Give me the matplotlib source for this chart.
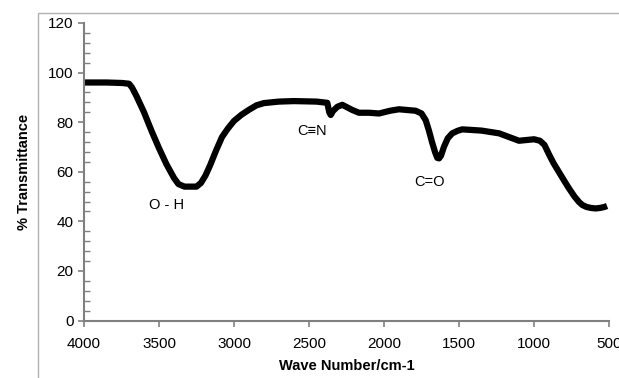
import matplotlib.pyplot as plt
import matplotlib
from matplotlib.patches import Rectangle
from matplotlib.ticker import MultipleLocator

matplotlib.rcParams['font.family'] = ['Liberation Sans', 'DejaVu Sans']

# spectrum
wavenumber = [4000, 3850, 3745, 3700, 3680, 3650, 3600, 3550, 3500, 3450, 3400, 3370,
              3330, 3290, 3250, 3220, 3190, 3160, 3120, 3080, 3040, 3000, 2950, 2900,
              2850, 2800, 2700, 2600, 2450, 2378, 2365, 2355, 2340, 2311, 2278, 2211,
              2167, 2100, 2033, 1960, 1900, 1789, 1750, 1722, 1700, 1680, 1660, 1645,
              1633, 1620, 1600, 1575, 1545, 1510, 1478, 1350, 1233, 1100, 1000, 960,
              930, 900, 870, 830, 800, 767, 730, 700, 678, 650, 620, 589, 560, 530, 513]
transmittance = [96.0, 96.0, 95.8, 95.5, 94.0, 90.5, 84.0, 76.5, 69.5, 63.0, 57.5, 55.0,
                 54.0, 54.0, 54.0, 55.5, 58.5, 62.5, 68.5, 74.0, 77.5, 80.5, 83.0, 85.0,
                 86.8, 87.7, 88.3, 88.5, 88.3, 87.8, 84.0, 82.9, 84.5, 86.2, 87.0, 84.9,
                 83.8, 83.8, 83.5, 84.6, 85.2, 84.6, 83.5, 80.8, 76.5, 72.0, 68.0, 65.6,
                 65.4, 66.5, 70.1, 73.5, 75.5, 76.5, 77.1, 76.6, 75.5, 72.5, 73.1, 72.5,
                 70.8, 67.0, 63.5, 59.5, 56.5, 53.3, 50.0, 47.8, 46.6, 45.8, 45.4, 45.2,
                 45.4, 45.8, 46.2]

peak_labels = ['O - H', 'C\u2261N', 'C=O']
peak_x = [3450, 2480, 1700]
peak_y = [46.6, 76.4, 56.0]

W, H = 619, 378
fig = plt.figure(figsize=(W / 100, H / 100), dpi=100)
ax = fig.add_axes([84 / W, 1 - 320.5 / H, (609 - 84) / W, (320.5 - 23) / H])

# outer chart frame
fig.add_artist(Rectangle((38 / W, -0.05), 1.1, 0.05 + 1 - 13 / H, transform=fig.transFigure,
                         facecolor='none', edgecolor='#b0b0b0', linewidth=1.0))

ax.plot(wavenumber, transmittance, color='black', linewidth=4.5,
        solid_joinstyle='round', solid_capstyle='butt')

for lab, x, y in zip(peak_labels, peak_x, peak_y):
    ax.text(x, y, lab, ha='center', va='center', fontsize=10.5)

ax.set_xlim(4000, 500)
ax.set_ylim(0, 120)
ax.set_xticks(range(4000, 499, -500))
ax.set_xticklabels([str(v) for v in range(4000, 499, -500)])
ax.yaxis.set_major_locator(MultipleLocator(20))
ax.yaxis.set_minor_locator(MultipleLocator(4))

for s in ['top', 'right']:
    ax.spines[s].set_visible(False)
for s in ['left', 'bottom']:
    ax.spines[s].set_color('#808080')
    ax.spines[s].set_linewidth(1.5)

ax.tick_params(axis='both', which='major', direction='out', length=4, width=1.2,
               color='#808080', labelsize=11)
ax.tick_params(axis='y', which='minor', direction='in', length=4, width=1.0, color='#808080')
ax.tick_params(axis='x', which='major', pad=8)

ax.set_xlabel('Wave Number/cm-1', fontsize=10.5, fontweight='bold', labelpad=6)
ax.set_ylabel('% Transmittance', fontsize=10.5, fontweight='bold', labelpad=12)

fig.savefig('out.png', dpi=100)
